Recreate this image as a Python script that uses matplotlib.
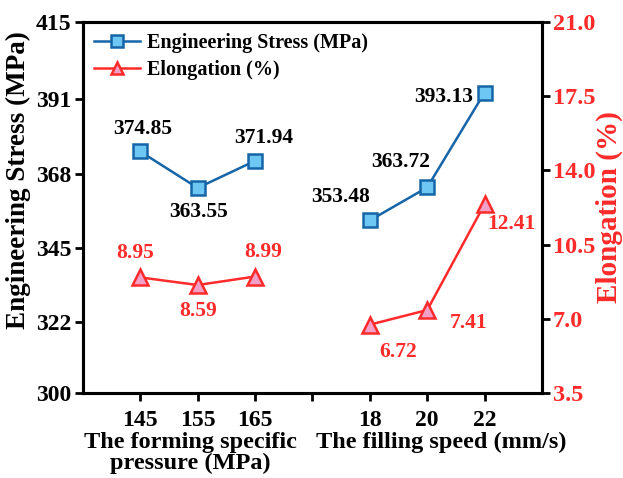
import matplotlib
matplotlib.use("Agg")
import matplotlib.pyplot as plt
import matplotlib.transforms as mtransforms

plt.rcParams['font.family'] = ['Liberation Serif', 'DejaVu Serif']
plt.rcParams['font.weight'] = 'bold'

# data
pressure = [145, 155, 165]
speed = [18, 20, 22]
stress_pressure = [374.85, 363.55, 371.94]
stress_speed = [353.48, 363.72, 393.13]
elong_pressure = [8.95, 8.59, 8.99]
elong_speed = [6.72, 7.41, 12.41]

x_left = [0, 1, 2]
x_right = [4, 5, 6]

blue = "#1565a8"
blue_face = "#6ec6f2"
red = "#ff2a2a"
red_face = "#f2a0c8"

fig = plt.figure(figsize=(6.23, 4.78), dpi=100)
ax = fig.add_axes([0.133, 0.178, 0.737, 0.776])
ax2 = ax.twinx()

sty_s = dict(color=blue, lw=1.8, marker='s', ms=10, mfc=blue_face, mec=blue, mew=1.8, zorder=3)
sty_e = dict(color=red, lw=1.8, marker='^', ms=12, mfc=red_face, mec=red, mew=1.8, zorder=3)

l1, = ax.plot(x_left, stress_pressure, **sty_s, label="Engineering Stress (MPa)")
ax.plot(x_right, stress_speed, **sty_s)
l2, = ax2.plot(x_left, elong_pressure, **sty_e, label="Elongation (%)")
ax2.plot(x_right, elong_speed, **sty_e)

ax.set_xlim(-1, 7)
ax.set_ylim(300, 415)
ax2.set_ylim(3.5, 21.0)
ax.set_yticks([300, 322, 345, 368, 391, 415])
ax2.set_yticks([3.5, 7.0, 10.5, 14.0, 17.5, 21.0])
ax2.set_yticklabels(["3.5", "7.0", "10.5", "14.0", "17.5", "21.0"])
ax.set_xticks([0, 1, 2, 3, 4, 5, 6])
ax.set_xticklabels([str(p) for p in pressure] + [""] + [str(s) for s in speed])

for a in (ax, ax2):
    for sp in a.spines.values():
        sp.set_linewidth(2.2)
    a.tick_params(width=2, length=6, direction='out', pad=2)
ax.tick_params(axis='y', labelsize=17)
ax.tick_params(axis='x', labelsize=17, pad=6)
ax2.tick_params(axis='y', labelsize=17.5, labelcolor=red)

ax.set_ylabel("Engineering Stress (MPa)", fontsize=19.5, fontweight='bold')
ax.yaxis.set_label_coords(-0.112, 0.574)
ax2.set_ylabel("Elongation (%)", fontsize=21, fontweight='bold', color=red)
ax2.yaxis.set_label_coords(1.117, 0.5)

trans = mtransforms.blended_transform_factory(ax.transData, ax.transAxes)
ax.text(0.88, -0.105, "The forming specific\npressure (MPa)", transform=trans, ha='center', va='top',
        fontsize=17.5, fontweight='bold', linespacing=1.0)
ax.text(5.25, -0.105, "The filling speed (mm/s)", transform=trans, ha='center', va='top',
        fontsize=17.5, fontweight='bold')

# value labels (offsets in points)
s_off = [(2, 16), (0.5, -17), (6, 16.5)]
for x, v, o in zip(x_left, stress_pressure, s_off):
    ax.annotate(f"{v:.2f}", (x, v), xytext=o, textcoords='offset points', ha='center', va='center',
                fontsize=15.5, fontweight='bold')
s_off2 = [(-21, 17), (-19, 18.5), (-29.5, -3)]
for x, v, o in zip(x_right, stress_speed, s_off2):
    ax.annotate(f"{v:.2f}", (x, v), xytext=o, textcoords='offset points', ha='center', va='center',
                fontsize=15.5, fontweight='bold')
e_off = [(-3.5, 17.5), (0.5, -18.5), (6, 17.5)]
for x, v, o in zip(x_left, elong_pressure, e_off):
    ax2.annotate(f"{v:.2f}", (x, v), xytext=o, textcoords='offset points', ha='center', va='center',
                 fontsize=15.5, fontweight='bold', color=red)
e_off2 = [(20, -19.5), (29.5, -9.5), (19, -14)]
for x, v, o in zip(x_right, elong_speed, e_off2):
    ax2.annotate(f"{v:.2f}", (x, v), xytext=o, textcoords='offset points', ha='center', va='center',
                 fontsize=15.5, fontweight='bold', color=red)

leg = ax.legend(handles=[l1, l2], loc='upper left', frameon=False, fontsize=14.5,
                handlelength=2.3, borderaxespad=0.25, labelspacing=0.35, handletextpad=0.35,
                borderpad=0.3)
for h in leg.legend_handles:
    h.set_markersize(9)

fig.savefig("out.png", dpi=100)
